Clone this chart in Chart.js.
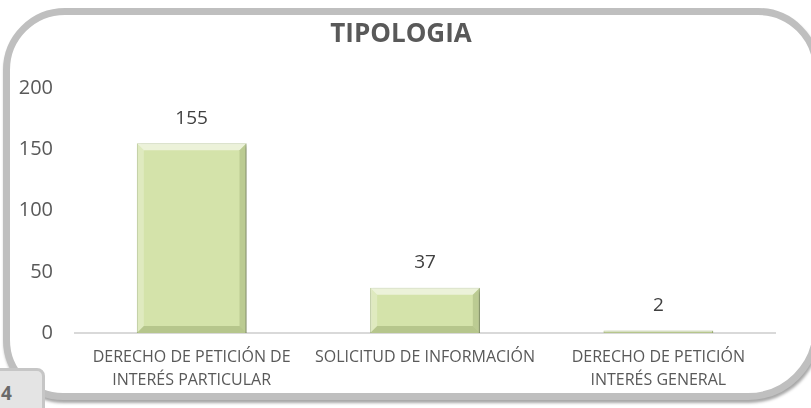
<!DOCTYPE html>
<html>
<head>
<meta charset="utf-8">
<script src="https://cdn.jsdelivr.net/npm/chart.js@4.4.1/dist/chart.umd.min.js"></script>
<style>
  html, body { margin: 0; padding: 0; background: #fff; overflow: hidden; }
  #wrap { position: relative; width: 811px; height: 408px; overflow: hidden; }
  #frame {
    position: absolute; left: 3px; top: 8px; width: 803px; height: 378px;
    border: 7px solid #bfbfbf; border-radius: 62px 62px 72px 60px; background: #fff;
    box-shadow: 1px 3px 3px rgba(0,0,0,0.35);
  }
  #tab {
    position: absolute; left: -14px; top: 368px; width: 53px; height: 50px;
    border: 3px solid #c6c6c6; border-radius: 8px; background: #e4e4e4;
    font: bold 19px "Open Sans", sans-serif; color: #6a6a6a;
  }
  #tab span { position: absolute; left: 12px; top: 9px; }
  canvas { position: absolute; left: 0; top: 0; }
</style>
</head>
<body>
<div id="wrap">
  <div id="frame"></div>
  <canvas id="myChart" width="811" height="408"></canvas>
  <div id="tab"><span>4</span></div>
</div>
<script>
let categories = [
    ['DERECHO DE PETICIÓN DE', 'INTERÉS PARTICULAR'],
    'SOLICITUD DE INFORMACIÓN',
    ['DERECHO DE PETICIÓN', 'INTERÉS GENERAL']
]
let values = [155, 37, 2]
let yTicks = [0, 50, 100, 150, 200]
let titleText = 'TIPOLOGIA'

const textGray = '#595959'

// shadow under the bars
const barShadow = {
    id: 'barShadow',
    beforeDatasetsDraw(chart) {
        let ctx = chart.ctx
        ctx.save()
        ctx.shadowColor = 'rgba(0,0,0,0.35)'
        ctx.shadowBlur = 4
        ctx.shadowOffsetX = 2
        ctx.shadowOffsetY = 2
    },
    afterDatasetsDraw(chart) {
        chart.ctx.restore()
    }
}

// bevel + value labels
const bevelLabels = {
    id: 'bevelLabels',
    afterDatasetsDraw(chart) {
        let ctx = chart.ctx
        let meta = chart.getDatasetMeta(0)
        meta.data.forEach((bar, i) => {
            let p = bar.getProps(['x', 'y', 'base', 'width'], true)
            let l = p.x - p.width / 2, r = p.x + p.width / 2
            let t = Math.min(p.y, p.base), b = Math.max(p.y, p.base)
            let s = Math.min(7, (b - t) / 2)
            const poly = (pts, col) => {
                ctx.beginPath()
                ctx.moveTo(pts[0][0], pts[0][1])
                for (let k = 1; k < pts.length; k++) ctx.lineTo(pts[k][0], pts[k][1])
                ctx.closePath()
                ctx.fillStyle = col
                ctx.fill()
            }
            ctx.save()
            poly([[l, t], [r, t], [r - s, t + s], [l + s, t + s]], 'rgba(255,255,255,0.55)')
            poly([[l, t], [l + s, t + s], [l + s, b - s], [l, b]], 'rgba(255,255,255,0.25)')
            poly([[r, t], [r, b], [r - s, b - s], [r - s, t + s]], 'rgba(90,110,50,0.2)')
            poly([[l, b], [l + s, b - s], [r - s, b - s], [r, b]], 'rgba(90,110,50,0.25)')
            ctx.fillStyle = '#404040'
            ctx.font = '19px "Open Sans", sans-serif'
            ctx.textAlign = 'center'
            ctx.textBaseline = 'middle'
            ctx.fillText(values[i], p.x, t - 25)
            ctx.restore()
        })
    }
}

const data = {
    labels: categories,
    datasets: [{
        label: titleText,
        data: values,
        backgroundColor: '#d4e3aa',
        borderColor: '#a3b873',
        borderWidth: 1,
        barPercentage: 0.47,
        categoryPercentage: 1
    }]
}

const config = {
    type: 'bar',
    data: data,
    plugins: [barShadow, bevelLabels],
    options: {
        responsive: false,
        animation: false,
        events: [],
        layout: { padding: { left: 0, right: 9, top: 0, bottom: 0 } },
        plugins: {
            legend: { display: false },
            tooltip: { enabled: false },
            title: {
                display: true,
                text: titleText,
                color: textGray,
                font: { family: 'Open Sans', size: 26, weight: 'bold', lineHeight: 1.2 },
                padding: { top: 19, bottom: 38 }
            }
        },
        scales: {
            x: {
                grid: { display: false, drawTicks: false },
                border: { display: true, color: '#d9d9d9', width: 2 },
                ticks: {
                    color: textGray,
                    padding: 13,
                    maxRotation: 0,
                    autoSkip: false,
                    font: { family: 'Open Sans', size: 16, lineHeight: 1.45 }
                },
                afterFit(scale) { scale.height = 75 }
            },
            y: {
                min: 0,
                max: 200,
                grid: { display: false, drawTicks: false },
                border: { display: false },
                afterBuildTicks(scale) { scale.ticks = yTicks.map(v => ({ value: v })) },
                ticks: {
                    color: textGray,
                    padding: 22,
                    font: { family: 'Open Sans', size: 20 }
                },
                afterFit(scale) { scale.width = 75 }
            },
            // empty spacer on the right so the title sits where it does in the original
            yRight: {
                position: 'right',
                grid: { display: false, drawTicks: false },
                border: { display: false },
                ticks: { display: false },
                afterFit(scale) { scale.width = 27 }
            }
        }
    }
}

var ctx = document.getElementById("myChart")
var newmychart = new Chart(ctx, config)
</script>
</body>
</html>
